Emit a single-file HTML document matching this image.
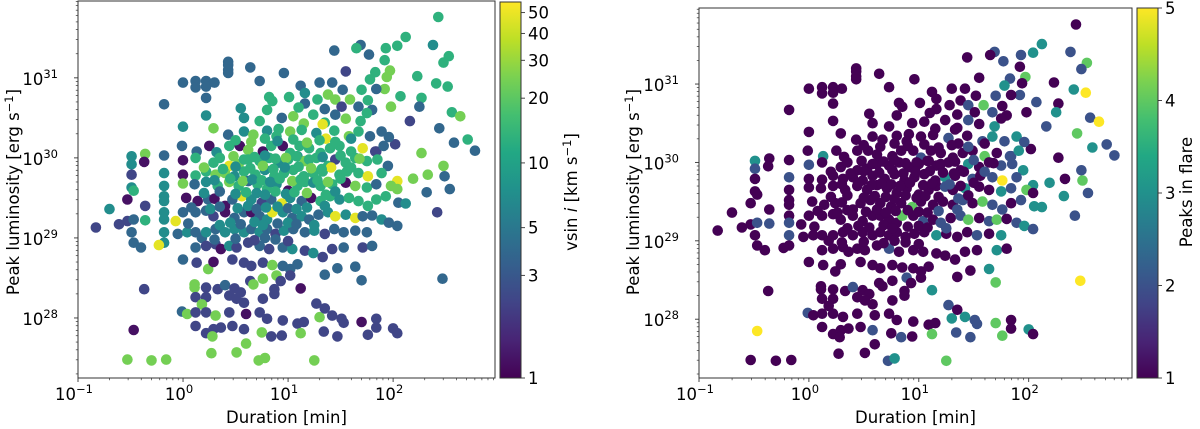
<!DOCTYPE html>
<html><head><meta charset="utf-8">
<style>
html,body{margin:0;padding:0;background:#fff;}
svg{display:block;font-family:"DejaVu Sans","Liberation Sans",sans-serif;}
</style></head>
<body>
<svg id="fig" width="1200" height="429" viewBox="0 0 1200 429" xmlns="http://www.w3.org/2000/svg">
<defs>
<linearGradient id="viridisV" x1="0" y1="1" x2="0" y2="0">
<stop offset="0" stop-color="#440154"/><stop offset="0.1" stop-color="#482475"/><stop offset="0.2" stop-color="#414487"/><stop offset="0.3" stop-color="#355f8d"/><stop offset="0.4" stop-color="#2a788e"/><stop offset="0.5" stop-color="#21918c"/><stop offset="0.6" stop-color="#22a884"/><stop offset="0.7" stop-color="#44bf70"/><stop offset="0.8" stop-color="#7ad151"/><stop offset="0.9" stop-color="#bddf26"/><stop offset="1" stop-color="#fde725"/>
</linearGradient>
</defs>
</svg>
<script>
// log10 of duration [min]
const logDuration = [
2.43,2.12,2.38,1.69,1.65,1.77,1.44,1.93,2.04,2.53,2.48,1.92,1.97,1.55,1.83,2.23,1.94,1.78,2.52,2.41,1.92,1.84,1.70,2.07,2.27,2.25,1.98,2.56,2.64,2.16,2.44,2.58,2.71,2.78,2.27,2.48,2.49,2.33,2.19,2.32,2.54,2.42,2.47,2.02,1.84,2.04,
0.43,0.43,0.43,0.43,0.64,0.96,0.73,0.00,0.12,0.12,0.22,0.22,0.30,0.22,-0.18,0.22,0.00,1.12,1.16,1.30,1.42,1.52,
0.82,0.85,1.01,1.16,1.28,1.38,1.45,1.59,1.76,1.51,1.67,1.80,
0.58,0.73,0.94,1.05,1.15,1.24,1.35,1.45,1.55,1.69,1.75,1.33,0.91,
0.29,0.43,0.58,0.67,0.80,0.89,1.02,1.13,1.27,1.36,1.44,1.58,1.67,1.78,1.89,1.96,
-0.01,0.13,0.25,0.32,0.44,0.54,0.62,0.76,0.84,0.95,1.02,1.11,1.20,1.31,1.40,1.49,1.60,1.71,1.83,1.91,
-0.49,-0.36,-0.37,-0.18,0.00,0.12,0.29,0.44,0.53,0.62,0.73,0.82,0.91,1.00,1.09,1.16,1.27,1.38,1.45,1.55,1.64,1.75,1.85,1.95,
-0.49,-0.49,-0.18,0.00,0.12,0.22,0.31,0.40,0.49,0.58,0.69,0.78,0.87,0.96,1.05,1.15,1.24,1.33,1.41,1.49,1.56,1.67,1.76,1.89,
-0.49,-0.18,0.00,0.11,0.22,0.33,0.44,0.53,0.62,0.71,0.80,0.89,1.00,1.09,1.16,1.24,1.31,1.42,1.55,1.64,1.75,1.84,1.98,2.04,
-0.70,-0.53,-0.47,-0.36,-0.18,-0.18,0.03,0.14,0.24,0.30,0.40,0.47,0.56,0.65,0.75,0.84,0.94,1.02,1.13,1.22,1.31,1.40,1.49,1.58,1.67,1.76,1.84,1.93,2.05,2.12,
-0.83,-0.61,-0.53,-0.47,-0.36,-0.18,-0.18,-0.07,0.00,0.12,0.22,0.29,0.40,0.49,0.58,0.65,0.73,0.80,0.85,0.95,1.04,1.13,1.20,1.29,1.38,1.45,1.55,1.64,1.71,1.80,1.89,1.96,2.04,
-0.49,-0.47,-0.40,-0.18,-0.18,-0.23,-0.05,0.04,0.12,0.18,0.22,0.31,0.40,0.49,0.58,0.65,0.73,0.80,0.88,0.96,1.05,1.16,1.25,1.35,1.44,1.53,1.64,1.75,
0.00,0.12,0.22,0.31,0.36,0.44,0.51,0.62,0.73,0.82,0.95,1.04,1.16,1.24,1.33,1.42,1.53,1.71,1.80,
0.13,0.24,0.29,0.47,0.58,0.65,0.76,0.85,0.95,1.02,1.09,1.35,1.47,1.64,1.70,
-0.37,0.11,0.11,0.22,0.33,0.40,0.49,0.55,0.64,0.67,0.76,0.87,0.89,0.93,1.02,1.12,
0.12,0.22,0.44,0.51,0.58,0.76,0.87,0.18,1.27,1.30,1.35,
-0.01,0.04,0.12,0.22,0.31,0.44,0.60,0.73,0.80,0.95,1.09,1.15,1.42,1.51,1.70,1.84,1.53,
-0.47,0.12,0.22,0.29,0.36,0.47,0.58,0.75,0.84,0.94,1.12,1.34,1.47,1.76,1.84,2.00,2.04,
-0.53,-0.30,-0.16,0.27,0.28,0.51,0.60,0.72,0.78,1.25,
0.50,0.65,0.78,0.90,1.05,1.18,1.30,1.45,1.60,
0.35,0.48,0.58,0.68,0.78,0.88,0.98,1.08,1.20,1.33,1.50,1.68,
0.20,0.38,0.50,0.64,0.76,0.86,0.97,1.10,1.22,1.32,1.60,
0.30,0.45,0.57,0.66,0.75,0.83,0.92,1.04,1.12,1.28,1.38,1.50,
0.20,0.35,0.50,0.60,0.70,0.78,0.88,0.98,1.06,1.18,1.36,1.45,
0.08,0.26,0.35,0.52,0.62,0.70,0.79,0.90,1.00,1.08,1.18,1.35,
0.05,0.35,0.45,0.55,0.68,0.76,0.90,1.00,1.08,1.25,
0.30,0.50,0.68,0.78,0.88,1.00,
0.55,0.80,1.10,1.35
];
// log10 of peak luminosity [erg/s]
const logLuminosity = [
31.76,31.51,31.41,31.41,31.37,31.29,31.34,31.37,31.40,31.27,31.19,31.22,31.09,31.08,31.07,31.02,31.01,30.98,30.89,30.93,30.86,30.86,30.85,30.77,30.75,30.64,30.64,30.57,30.52,30.46,30.37,30.19,30.23,30.09,30.06,29.90,29.77,29.79,29.74,29.57,29.61,29.32,28.49,30.17,30.08,29.71,
31.20,31.16,31.10,31.06,31.13,31.06,30.96,30.94,30.96,30.88,30.96,30.89,30.94,30.75,30.67,30.53,30.39,30.90,30.81,30.94,30.94,30.85,
30.76,30.71,30.76,30.68,30.73,30.79,30.73,30.73,30.72,30.64,30.64,30.60,
30.50,30.46,30.50,30.52,30.43,30.54,30.44,30.54,30.49,30.46,30.56,30.42,30.36,
30.37,30.29,30.33,30.29,30.34,30.27,30.33,30.35,30.31,30.24,30.34,30.27,30.33,30.27,30.33,30.26,
30.15,30.08,30.15,30.07,30.15,30.15,30.10,30.08,30.15,30.15,30.06,30.15,30.12,30.06,30.12,30.15,30.08,30.12,30.08,30.15,
30.02,30.05,29.95,30.03,29.97,30.00,29.94,29.90,29.92,29.98,29.96,30.00,29.94,29.98,30.02,29.96,30.00,29.90,29.98,29.94,30.00,29.96,29.98,29.90,
29.92,29.79,29.81,29.79,29.78,29.83,29.79,29.81,29.77,29.83,29.79,29.85,29.77,29.81,29.85,29.77,29.81,29.83,29.88,29.79,29.83,29.81,29.77,29.81,
29.63,29.65,29.68,29.67,29.70,29.65,29.70,29.65,29.71,29.67,29.61,29.67,29.59,29.65,29.70,29.69,29.65,29.67,29.69,29.65,29.63,29.67,29.65,29.61,
29.36,29.48,29.59,29.40,29.52,29.46,29.50,29.46,29.48,29.49,29.40,29.48,29.52,29.48,29.44,29.48,29.43,29.50,29.46,29.50,29.46,29.52,29.48,29.50,29.46,29.40,29.48,29.52,29.44,29.43,
29.13,29.17,29.21,29.23,29.22,29.32,29.23,29.21,29.32,29.32,29.34,29.27,29.32,29.25,29.32,29.32,29.27,29.23,29.32,29.32,29.25,29.27,29.23,29.29,29.32,29.27,29.29,29.25,29.27,29.28,29.23,29.19,29.15,
29.07,28.94,28.88,29.07,28.94,28.91,29.05,29.07,29.07,29.00,29.07,29.11,29.07,29.11,29.07,29.11,29.07,29.11,29.05,29.09,29.11,29.07,29.09,29.05,29.11,29.07,29.09,29.07,
28.73,28.88,28.90,28.92,28.86,28.90,28.88,28.94,28.90,28.86,28.88,28.86,28.84,28.81,28.76,28.86,28.88,28.88,28.90,
28.69,28.61,28.70,28.73,28.69,28.65,28.69,28.66,28.65,28.61,28.67,28.54,28.62,28.64,28.47,
28.36,28.42,28.38,28.38,28.36,28.41,28.37,28.32,28.46,28.42,28.49,28.36,28.53,28.46,28.53,28.37,
28.26,28.26,28.28,28.24,28.19,28.24,28.30,28.17,28.18,28.01,28.12,
28.08,28.05,28.07,28.07,28.03,28.07,28.05,28.07,27.99,27.97,27.93,27.95,28.03,27.99,27.95,27.99,27.94,
27.85,27.90,27.81,27.86,27.88,27.90,27.86,27.82,27.77,27.78,27.81,27.83,27.77,27.79,27.88,27.87,27.81,
27.48,27.47,27.48,27.56,27.77,27.57,27.68,27.47,27.50,27.47,
30.22,30.20,30.24,30.21,30.23,30.19,30.22,30.20,30.24,
30.00,30.02,29.98,30.01,30.03,29.99,30.00,30.02,29.98,30.01,30.03,29.99,
29.88,29.86,29.89,29.87,29.90,29.86,29.88,29.89,29.87,29.86,29.88,
29.72,29.74,29.71,29.73,29.72,29.70,29.74,29.71,29.73,29.72,29.70,29.74,
29.56,29.58,29.55,29.57,29.56,29.54,29.58,29.55,29.57,29.56,29.54,29.58,
29.38,29.36,29.39,29.37,29.40,29.36,29.38,29.39,29.37,29.36,29.38,29.40,
29.18,29.16,29.19,29.17,29.20,29.16,29.18,29.19,29.17,29.16,
28.98,28.99,28.97,29.00,28.98,28.96,
30.62,30.60,30.63,30.61
];
// vsin i [km/s]
const vsini = [
13,13,7,3.8,13,3.8,3.8,13,13,13,13,13,24,2.3,13,13,24,13,13,13,24,3.8,13,13,13,3.8,24,13,24,2.3,3.8,3.8,13,3.8,24,24,3.8,24,24,3.8,3.8,2.3,3.8,2.3,2.3,48,
3.8,3.8,3.8,3.8,3.8,3.8,3.8,3.8,3.8,3.8,3.8,3.8,3.8,3.8,3.8,7,7,3.8,7,3.8,3.8,3.8,
13,13,13,3.8,13,24,24,24,13,2.3,3.8,3.8,
7,13,3.8,24,24,13,13,3.8,24,13,13,48,13,
24,3.8,7,24,7,13,24,13,7,48,13,24,13,3.8,3.8,3.8,
3.8,3.8,1.2,7,13,1.2,24,1.2,13,1.2,13,13,13,13,13,13,13,48,2.3,3.8,
7,24,1.2,3.8,1.2,13,13,48,24,13,13,13,7,13,7,24,13,13,2.3,13,13,13,13,3.8,
7,2.3,7,1.2,13,13,24,24,7,13,13,7,13,13,13,13,13,13,48,13,13,13,48,13,
7,7,24,3.8,7,13,24,13,3.8,13,13,7,1.2,13,13,7,13,13,1.2,24,13,3.8,24,24,
7,1.2,13,2.3,7,7,1.2,1.2,3.8,1.2,1.2,3.8,48,7,2.3,3.8,48,7,3.8,1.2,13,13,7,13,13,13,13,13,3.8,7,
2.3,2.3,2.3,3.8,13,7,7,48,3.8,3.8,3.8,2.3,1.2,3.8,3.8,1.2,3.8,7,48,7,3.8,7,3.8,3.8,7,48,7,48,3.8,3.8,7,3.8,3.8,
3.8,3.8,3.8,7,7,48,3.8,7,3.8,3.8,7,3.8,7,7,7,3.8,7,3.8,2.3,7,3.8,3.8,7,2.3,3.8,3.8,3.8,3.8,
3.8,3.8,2.3,2.3,1.2,7,2.3,2.3,3.8,2.3,3.8,7,2.3,7,2.3,2.3,3.8,2.3,3.8,
2.3,24,1.2,2.3,2.3,2.3,2.3,24,3.8,3.8,3.8,3.8,3.8,3.8,3.8,
2.3,24,24,2.3,2.3,3.8,2.3,2.3,2.3,24,24,2.3,24,2.3,2.3,1.2,
2.3,2.3,2.3,2.3,2.3,2.3,2.3,24,2.3,24,2.3,
3.8,24,2.3,2.3,24,2.3,1.2,2.3,2.3,2.3,2.3,2.3,2.3,2.3,1.2,2.3,2.3,
1.2,2.3,2.3,2.3,2.3,2.3,2.3,24,2.3,2.3,24,2.3,2.3,2.3,2.3,2.3,2.3,
24,24,24,24,24,24,24,24,24,24,
13,24,13,7,13,24,13,13,7,
13,24,13,13,7,13,24,13,13,7,13,24,
24,13,7,13,24,13,7,13,24,13,13,
7,13,24,7,13,7,13,24,13,13,24,13,
7,3.8,7,13,7,7,13,7,13,24,13,7,
3.8,7,3.8,7,7,3.8,7,7,3.8,7,7,7,
3.8,7,7,3.8,7,7,3.8,7,3.8,7,
3.8,3.8,2.3,3.8,3.8,2.3,
7,13,13,3.8
];
// number of peaks in flare
const peaks = [
1,3,2,2,1,2,1,2,3,4,2,1,4,1,2,1,1,3,5,3,2,1,2,2,1,3,1,2,5,2,4,3,2,2,1,2,4,1,3,3,2,2,5,1,2,3,
1,1,1,1,1,1,1,1,1,1,1,1,1,1,1,1,1,1,1,1,1,1,
1,1,1,1,1,1,2,4,1,1,2,1,
1,1,1,1,1,1,1,2,1,3,1,1,1,
1,1,1,1,1,1,1,1,2,1,1,2,3,2,3,2,
1,3,1,1,1,1,1,1,1,1,2,1,1,1,1,1,4,1,2,3,
3,1,1,1,2,1,1,1,1,1,1,1,1,1,1,1,1,1,3,1,1,2,2,3,
2,1,2,1,1,1,1,1,1,1,1,1,1,1,1,1,3,1,1,2,1,2,5,2,
1,1,1,1,1,1,1,1,1,1,1,1,1,1,1,2,1,3,1,1,3,2,4,1,
1,1,1,1,1,1,1,1,1,1,1,1,1,1,1,1,4,1,1,1,1,2,1,4,2,2,1,2,3,3,
1,1,1,2,2,1,2,1,1,1,1,1,1,1,1,1,1,1,4,1,2,1,2,1,2,4,1,2,4,1,2,3,2,
1,1,1,2,1,1,1,1,1,1,1,1,1,1,1,1,1,1,1,1,1,3,1,1,1,2,1,3,
1,1,1,1,1,1,1,1,2,1,1,1,1,1,1,1,1,3,1,
1,1,1,1,1,1,1,1,1,1,1,1,1,3,4,
1,1,1,1,1,2,1,1,1,1,1,1,2,1,1,3,
1,1,1,1,1,1,1,1,2,3,1,
2,1,1,1,1,1,1,1,1,1,1,1,3,2,4,1,2,
5,1,1,1,1,1,2,1,2,1,4,2,2,4,1,3,1,
1,1,1,1,1,1,1,2,3,4,
1,1,1,1,1,1,1,2,1,
1,1,1,1,1,1,1,1,1,1,2,1,
1,1,1,1,1,1,1,1,1,1,2,
1,1,1,1,1,1,1,1,1,2,1,1,
1,1,1,1,1,1,1,1,1,1,2,1,
1,1,1,1,1,1,1,1,1,1,2,2,
1,1,1,1,1,1,1,1,1,2,
1,1,1,1,1,1,
1,1,1,1
];
const xTickExps = [-1, 0, 1, 2];
const yTickExps = [28, 29, 30, 31];
const vsiniTicks = [1, 3, 5, 10, 20, 30, 40, 50];
const peakTicks = [1, 2, 3, 4, 5];

const NS = "http://www.w3.org/2000/svg";
const svg = document.getElementById('fig');
const VIR = ["#440154","#482475","#414487","#355f8d","#2a788e","#21918c","#22a884","#44bf70","#7ad151","#bddf26","#fde725"];
function hex(h){return [parseInt(h.substr(1,2),16),parseInt(h.substr(3,2),16),parseInt(h.substr(5,2),16)];}
function viridis(t){
  t=Math.max(0,Math.min(1,t));
  const f=t*10,i=Math.min(9,Math.floor(f)),r=f-i;
  const a=hex(VIR[i]),b=hex(VIR[i+1]);
  return 'rgb('+a.map((v,k)=>Math.round(v+(b[k]-v)*r)).join(',')+')';
}
function mk(tag,attrs,parent){
  const e=document.createElementNS(NS,tag);
  for(const k in attrs) e.setAttribute(k,attrs[k]);
  (parent||svg).appendChild(e);
  return e;
}
function powLabel(parent,x,y,base,exp,anchor){
  const t=mk('text',{x:x,y:y,'font-size':16.5,'text-anchor':anchor,fill:'#000'},parent);
  t.appendChild(document.createTextNode(base));
  const s=document.createElementNS(NS,'tspan');
  s.setAttribute('dy','-7');s.setAttribute('font-size','11.5');
  s.textContent=exp;
  t.appendChild(s);
  return t;
}

function panel(P){
  const g=mk('g',{});
  
  
  const xs=v=>P.x0+(v-P.xmin)/(P.xmax-P.xmin)*(P.x1-P.x0);
  const ys=v=>P.y1-(v-P.ymin)/(P.ymax-P.ymin)*(P.y1-P.y0);
  const clip=mk('clipPath',{id:'clip'+P.id},g);
  mk('rect',{x:P.x0,y:P.y0,width:P.x1-P.x0,height:P.y1-P.y0},clip);
  const pts=mk('g',{'clip-path':'url(#clip'+P.id+')'},g);
  
  
  for(let i=0;i<logDuration.length;i++){
    const c=mk('circle',{cx:xs(logDuration[i]).toFixed(1),cy:ys(logLuminosity[i]).toFixed(1),r:5.3,fill:viridis(P.colorT(i))},pts);
    
    
  }
  const fr=mk('rect',{x:P.x0,y:P.y0,width:P.x1-P.x0,height:P.y1-P.y0,fill:'none',stroke:'#333',"stroke-width":1},g);
  
  
  const xt=mk('g',{},g);
  
  
  for(let e=Math.floor(P.xmin);e<=Math.ceil(P.xmax);e++){
    for(let m=1;m<10;m++){
      const v=e+Math.log10(m); if(v<P.xmin-1e-6||v>P.xmax) continue;
      const X=xs(v);
      mk('line',{x1:X,x2:X,y1:P.y1,y2:P.y1+(m===1?4:2.2),stroke:'#333','stroke-width':m===1?0.9:0.7},xt);
    }
  }
  xTickExps.forEach(e=>{
    const lbl=powLabel(xt,xs(e)-4,P.y1+22,'10',e<0?'\u22121':String(e),'middle');
    
    
  });
  const yt=mk('g',{},g);
  
  
  for(let e=Math.floor(P.ymin);e<=Math.ceil(P.ymax);e++){
    for(let m=1;m<10;m++){
      const v=e+Math.log10(m); if(v<P.ymin||v>P.ymax) continue;
      const Y=ys(v);
      mk('line',{x1:P.x0,x2:P.x0-(m===1?4:2.2),y1:Y,y2:Y,stroke:'#333','stroke-width':m===1?0.9:0.7},yt);
    }
  }
  yTickExps.forEach(e=>{
    const lbl=powLabel(yt,P.x0-20,ys(e)+7,'10',String(e),'end');
    
    
  });
  const xl=mk('text',{x:(P.x0+P.x1)/2,y:423,'font-size':16.5,'text-anchor':'middle'},g);
  xl.textContent='Duration [min]';
  
  
  const yl=mk('text',{x:0,y:0,'font-size':16.5,'text-anchor':'middle',transform:'translate('+P.ylabX+',192) rotate(-90)'},g);
  yl.appendChild(document.createTextNode('Peak luminosity [erg s'));
  const sp=document.createElementNS(NS,'tspan');sp.setAttribute('dy','-6');sp.setAttribute('font-size','11.5');sp.textContent='\u22121';yl.appendChild(sp);
  const sp2=document.createElementNS(NS,'tspan');sp2.setAttribute('dy','6');sp2.textContent=']';yl.appendChild(sp2);
  
  
  const cb=mk('g',{},g);
  
  
  mk('rect',{x:P.cx0,y:P.y0c,width:P.cx1-P.cx0,height:P.y1-P.y0c,fill:'url(#viridisV)',stroke:'#333','stroke-width':1},cb);
  P.cbTicks.forEach(v=>{
    const Y=P.y1-P.cbT(v)*(P.y1-P.y0c);
    mk('line',{x1:P.cx1,x2:P.cx1+4,y1:Y,y2:Y,stroke:'#333','stroke-width':0.9},cb);
    const t=mk('text',{x:P.cx1+7,y:Y+6,'font-size':16.5},cb);
    t.textContent=String(v);
    
    
  });
  const cl=mk('text',{x:0,y:0,'font-size':16.5,'text-anchor':'middle',transform:'translate('+P.cbLabX+',192) rotate(-90)'},cb);
  P.cbLabel(cl);
  
  
}

const VMAX=Math.log10(56);
panel({id:1,name:'vsini-panel',x0:78,x1:495,y0:1,y1:378,y0c:2,xmin:-1,xmax:2.97,ymin:27.25,ymax:31.96,
  ylabX:19,cx0:500,cx1:521,cbLabX:577,
  colorT:i=>Math.log10(vsini[i])/VMAX,
  cbTicks:vsiniTicks,cbT:v=>Math.log10(v)/VMAX,
  cbLabel:t=>{t.appendChild(document.createTextNode('vsin '));const it=document.createElementNS(NS,'tspan');it.setAttribute('font-style','italic');it.textContent='i';t.appendChild(it);t.appendChild(document.createTextNode(' [km s'));const s=document.createElementNS(NS,'tspan');s.setAttribute('dy','-6');s.setAttribute('font-size','11.5');s.textContent='\u22121';t.appendChild(s);const s2=document.createElementNS(NS,'tspan');s2.setAttribute('dy','6');s2.textContent=']';t.appendChild(s2);}
});
panel({id:2,name:'peaks-panel',x0:699,x1:1132,y0:8,y1:378,y0c:8,xmin:-1,xmax:2.94,ymin:27.25,ymax:31.97,
  ylabX:639,cx0:1137,cx1:1158,cbLabX:1192,
  colorT:i=>(peaks[i]-1)/4,
  cbTicks:peakTicks,cbT:v=>(v-1)/4,
  cbLabel:t=>{t.textContent='Peaks in flare';}
});
</script>
</body></html>
